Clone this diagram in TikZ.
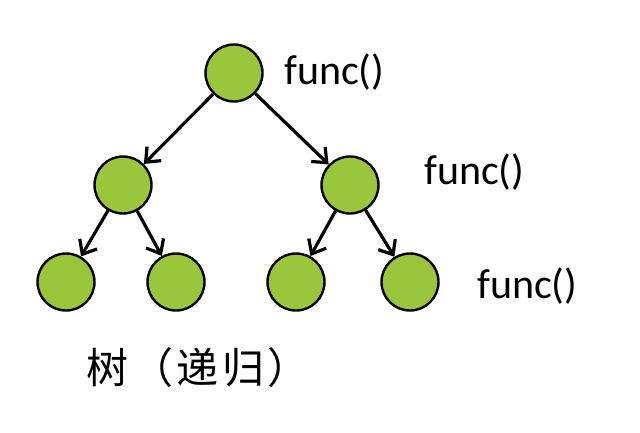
\documentclass[tikz,border=0pt]{standalone}
\usepackage{fontspec}
\setmainfont{Carlito}
\newfontfamily\cjk[LetterSpace=8]{Noto Sans CJK SC}
\usetikzlibrary{arrows.meta}
\definecolor{leafgreen}{HTML}{99C63A}
\begin{document}
\begin{tikzpicture}[x=1pt,y=-1pt,
  tnode/.style={circle,draw=black,line width=2.4pt,fill=leafgreen,minimum size=57pt,inner sep=0pt},
  conn/.style={line width=3.2pt,-{Straight Barb[length=12pt,width=20pt]}},
  lbl/.style={font=\fontsize{42}{46}\selectfont,inner sep=0pt,anchor=west}]
\fill[white] (0,0) rectangle (640,432);
\useasboundingbox (0,0) rectangle (640,432);
\node[tnode] (r) at (234,73) {};
\node[tnode] (a) at (123,185) {};
\node[tnode] (b) at (350,185) {};
\node[tnode] (a1) at (66,282) {};
\node[tnode] (a2) at (176,282) {};
\node[tnode] (b1) at (296,282) {};
\node[tnode] (b2) at (410,282) {};
\draw[conn] (r) -- (a);
\draw[conn] (r) -- (b);
\draw[conn] (a) -- (a1);
\draw[conn] (a) -- (a2);
\draw[conn] (b) -- (b1);
\draw[conn] (b) -- (b2);
\node[lbl] (l1) at (284,72) {func()};
\node[lbl] (l2) at (424,172) {func()};
\node[lbl] (l3) at (477,286) {func()};
\node[font=\cjk\fontsize{42}{46}\selectfont,inner sep=0pt,anchor=west] (t) at (86,368) {树（递归）};
\end{tikzpicture}
\end{document}
